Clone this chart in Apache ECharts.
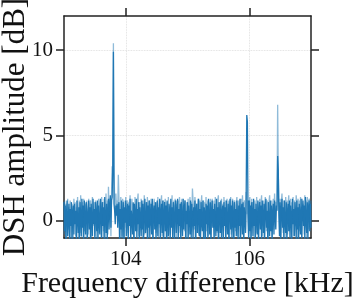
<!DOCTYPE html>
<html><head><meta charset="utf-8">
<script src="https://cdn.jsdelivr.net/npm/echarts@6/dist/echarts.min.js"></script>
<style>html,body{margin:0;padding:0;background:#fff}#c{width:357px;height:303px}</style>
</head><body><div id="c"></div>
<script>
const freqStart = 103, freqStep = 0.01;
const seriesDark = [
 1.1,-0.6,0.9,-1.2,0.4,1.2,-0.9,0.2,1.0,-1.1,0.7,-0.3,1.1,-1.3,0.5,0.9,-0.8,1.0,-0.2,0.6,
 -1.1,1.2,0.1,-0.7,0.8,-1.2,1.1,0.3,-0.9,1.3,-0.4,0.9,-1.2,1.2,0.2,-0.8,1.1,0.6,-1.0,0.4,
 1.2,-0.5,0.8,-1.3,1.0,0.1,-0.9,1.3,-0.2,0.7,-1.1,1.1,0.4,-0.6,1.2,-1.2,0.9,0.0,-0.8,1.3,
 0.5,-1.0,1.1,-0.3,0.8,-1.2,1.4,0.2,-0.7,1.0,-1.1,0.6,1.3,-0.5,0.9,1.5,-0.4,1.2,1.4,3.3,
 9.9,1.0,0.6,-0.2,0.9,0.3,1.0,-0.4,0.8,1.1,-1.2,0.7,-0.5,1.2,-1.0,0.4,1.1,-1.3,0.8,-0.1,
 1.2,-0.9,0.5,1.0,-1.2,0.9,-0.3,1.3,-1.1,0.6,0.2,-0.8,1.1,-1.2,1.0,0.4,-0.6,1.3,-1.0,0.7,
 -0.2,1.1,-1.3,0.8,0.3,-0.9,1.2,-0.5,1.0,-1.1,0.6,1.3,-0.7,0.1,1.1,-1.2,0.9,-0.4,1.2,-1.0,
 0.5,1.0,-0.8,1.3,-1.3,0.6,0.9,-0.5,1.1,-1.1,0.3,1.2,-0.9,0.8,-0.2,1.3,-1.2,0.5,1.0,-0.7,
 1.2,-1.1,0.4,1.1,-0.6,0.9,-1.3,1.2,0.1,-0.9,1.0,0.6,-1.2,1.3,-0.4,0.8,-1.0,1.1,0.3,-1.2,
 0.9,1.2,-0.7,0.5,1.3,-1.1,0.7,-0.3,1.0,-1.2,1.1,0.2,-0.9,1.3,-0.5,0.8,1.2,-1.1,0.6,-0.2,
 1.1,-1.3,0.9,0.3,-0.8,1.2,-1.0,1.0,0.4,-1.1,0.8,-0.3,1.2,-1.2,0.6,1.0,-0.7,0.2,1.3,-0.9,
 0.7,-1.2,1.1,0.0,-0.6,1.2,-1.1,0.8,0.5,-1.3,1.0,-0.2,0.9,-1.0,1.3,0.3,-0.8,1.1,-1.2,0.6,
 1.2,-0.4,0.7,-1.1,1.0,0.2,-0.9,1.3,-0.6,0.8,-1.2,1.1,0.4,-0.7,1.2,-1.0,0.5,0.9,-1.3,1.1,
 -0.3,0.8,-1.1,1.2,0.1,-0.8,1.0,-1.2,0.6,1.3,-0.5,0.9,-1.0,1.2,0.3,-1.2,1.1,-0.4,0.7,-0.9,
 1.2,0.4,-1.1,0.9,-0.3,1.3,-1.2,0.6,1.0,-0.8,1.1,-1.3,0.8,0.2,-0.7,1.4,6.2,5.8,0.3,-1.0,
 1.2,-0.6,0.9,-1.2,1.1,0.5,-0.9,1.3,-0.3,0.7,-1.1,1.0,0.2,-0.8,1.2,-1.2,0.6,1.1,-0.5,0.9,
 -1.3,1.2,0.3,-0.7,1.0,-1.0,0.8,1.3,-0.4,0.6,-1.2,1.1,0.1,-0.9,1.2,-0.6,0.9,-1.1,0.5,1.0,
 -0.8,1.2,0.4,-0.5,0.9,0.6,3.8,3.0,0.2,-0.9,1.1,-1.2,0.7,1.3,-0.4,0.8,-1.1,1.2,0.0,-0.7,
 1.1,-1.3,0.6,1.0,-0.6,1.2,-1.0,0.9,0.3,-1.2,1.3,-0.2,0.7,-0.9,1.1,0.5,-1.1,1.2,-0.5,0.8,
 -1.2,1.0,0.4,-0.8,1.3,-1.0,0.6,1.2,-0.3,0.9,-1.2,1.4,0.1,-0.7,1.1,-1.1,0.8,1.2,-0.6,1.0,
 -0.4
];
const seriesLight = [
 -0.8,1.2,0.3,1.0,-1.1,0.6,1.3,-0.5,0.8,0.2,1.2,-1.0,0.5,1.0,-0.3,-1.2,1.3,0.4,1.1,-0.9,
 0.8,-0.2,1.4,-1.1,0.6,1.2,-0.7,1.5,0.2,-1.0,1.1,0.5,1.3,-0.6,1.0,0.8,-1.2,1.2,0.3,-0.8,
 1.3,-0.4,0.9,1.2,-1.1,0.7,1.4,-0.3,0.6,1.1,-0.9,1.2,0.2,-1.2,1.0,0.5,1.3,-0.7,0.9,1.2,
 -1.0,1.4,0.4,1.1,-0.6,1.3,0.8,-1.1,1.6,0.3,1.2,-0.8,2.0,0.5,1.3,1.1,-0.9,1.6,3.2,2.6,
 10.4,3.1,1.3,0.5,1.6,0.9,1.2,0.6,2.7,1.3,0.4,-1.1,1.4,0.6,-0.9,1.3,0.2,1.2,-1.2,0.7,
 1.4,-0.4,0.9,1.2,-0.7,1.1,0.4,1.5,-1.0,0.8,1.3,-0.2,1.0,0.5,-1.1,1.4,0.2,0.9,-0.6,1.2,
 1.6,-0.9,0.6,1.1,-0.4,1.3,0.7,-1.2,1.2,0.3,1.5,-0.8,0.9,1.1,-0.5,1.4,0.6,-1.0,1.2,0.9,
 -0.3,1.3,0.4,1.1,-1.2,0.8,1.3,1.2,0.2,-0.7,1.1,0.5,1.4,-1.0,0.7,1.2,-0.4,1.0,1.5,-0.9,
 0.3,1.2,-1.1,0.9,1.3,-0.6,0.6,1.1,-1.2,1.4,0.2,0.9,-0.8,1.2,0.4,1.5,-1.0,0.7,1.2,-0.5,
 1.3,0.8,-1.2,1.0,0.3,1.2,-0.7,1.4,0.6,-1.1,1.0,1.3,0.4,0.4,0.8,-0.6,1.2,0.5,-1.0,1.1,
 0.6,1.3,-0.9,0.8,1.4,-0.3,1.1,0.2,1.9,1.2,0.7,-0.5,1.4,0.9,-1.1,1.0,0.4,1.3,-0.8,0.6,
 1.2,-1.0,0.9,1.5,-0.4,0.7,1.2,-1.2,1.1,0.3,1.4,-0.6,0.8,1.2,-0.9,1.0,0.5,1.3,-1.1,0.9,
 1.3,-0.3,0.6,1.2,-1.0,1.4,0.4,0.9,-0.7,1.2,1.5,-1.2,0.8,1.1,-0.5,1.3,0.2,1.0,-0.9,1.4,
 0.5,1.2,-1.1,0.9,1.3,-0.4,0.7,1.2,-1.2,1.0,1.4,-0.8,0.6,1.3,0.1,-1.0,1.2,0.8,-0.6,1.1,
 1.4,-0.9,0.5,1.2,1.0,-1.2,0.8,1.3,-0.3,1.5,0.6,-1.1,1.2,0.9,-0.5,1.7,0.4,0.9,1.2,-0.8,
 1.0,1.4,-1.2,0.7,1.3,-0.4,1.1,0.5,-1.0,1.2,0.9,-0.7,1.4,0.3,1.1,-1.2,0.8,1.3,-0.2,1.0,
 1.5,-0.9,0.6,1.2,-1.1,1.0,1.4,0.3,-0.6,1.2,0.8,-1.2,1.1,1.5,-0.3,0.7,1.2,-1.0,0.9,1.3,
 -0.5,1.6,0.4,1.1,0.7,1.2,6.8,2.9,1.1,0.3,1.3,-1.0,1.1,1.6,0.5,-0.7,1.2,0.9,-1.1,1.4,
 0.6,1.2,-0.8,1.0,1.5,-0.4,0.8,1.3,-1.2,1.1,0.4,1.4,-0.9,1.2,0.7,-0.3,1.5,1.0,-1.1,1.3,
 0.5,1.2,-0.6,1.4,0.9,-1.2,1.3,0.6,1.0,-0.8,1.5,0.2,1.2,-1.0,1.4,0.8,-0.5,1.3,1.1,0.3,
 1.2
];
const xTicks = [104, 106];
const yTicks = [0, 5, 10];
const xRange = [103, 107];
const yRange = [-1, 12];
const xTitle = 'Frequency difference [kHz]';
const yTitle = 'DSH amplitude [dB]';

const toPairs = arr => arr.map((v, i) => [+(freqStart + i * freqStep).toFixed(3), v]);
const FONT = 'Liberation Serif';
const axisLineStyle = { color: '#222', width: 1.5 };
const tickStyle = { color: '#222', width: 1.5 };
const splitStyle = { color: '#d8d8d8', width: 0.8, type: 'dotted' };

const chart = echarts.init(document.getElementById('c'), null, { renderer: 'canvas' });
chart.setOption({
  animation: false,
  backgroundColor: '#fff',
  grid: { left: 64, right: 46, top: 16, bottom: 65, containLabel: false, outerBoundsMode: 'none' },
  xAxis: [{
    type: 'value', min: xRange[0], max: xRange[1], position: 'bottom',
    name: xTitle, nameLocation: 'middle', nameGap: 31, nameMoveOverlap: false,
    nameTextStyle: { fontFamily: FONT, fontSize: 30, color: '#111' },
    axisLine: { onZero: false, lineStyle: axisLineStyle },
    axisTick: { show: true, inside: false, length: 8, lineStyle: tickStyle, customValues: xTicks },
    axisLabel: { customValues: xTicks, margin: 11, fontFamily: FONT, fontSize: 21, color: '#111' },
    splitLine: { show: true, lineStyle: splitStyle }
  }, {
    type: 'value', min: xRange[0], max: xRange[1], position: 'top',
    axisLine: { onZero: false, lineStyle: axisLineStyle },
    axisTick: { show: true, inside: false, length: 8, lineStyle: tickStyle, customValues: xTicks },
    axisLabel: { show: false, customValues: xTicks },
    splitLine: { show: false }
  }],
  yAxis: [{
    type: 'value', min: yRange[0], max: yRange[1], position: 'left',
    name: yTitle, nameLocation: 'middle', nameGap: 33, nameMoveOverlap: false,
    nameTextStyle: { fontFamily: FONT, fontSize: 31, color: '#111' },
    axisLine: { show: true, onZero: false, lineStyle: axisLineStyle },
    axisTick: { show: true, inside: false, length: 8, lineStyle: tickStyle, customValues: yTicks },
    axisLabel: { customValues: yTicks, margin: 11, fontFamily: FONT, fontSize: 21, color: '#111' },
    splitLine: { show: true, lineStyle: splitStyle }
  }, {
    type: 'value', min: yRange[0], max: yRange[1], position: 'right',
    axisLine: { show: true, onZero: false, lineStyle: axisLineStyle },
    axisTick: { show: true, inside: false, length: 8, lineStyle: tickStyle, customValues: yTicks },
    axisLabel: { show: false, customValues: yTicks },
    splitLine: { show: false }
  }],
  series: [{
    type: 'line', data: toPairs(seriesDark), showSymbol: false, symbol: 'none', clip: true,
    lineStyle: { color: '#1f77b4', width: 1.3 }, z: 2
  }, {
    type: 'line', data: toPairs(seriesLight), showSymbol: false, symbol: 'none', clip: true,
    lineStyle: { color: '#1f77b4', width: 1.3, opacity: 0.5 }, z: 3
  }]
});
</script>
</body></html>
